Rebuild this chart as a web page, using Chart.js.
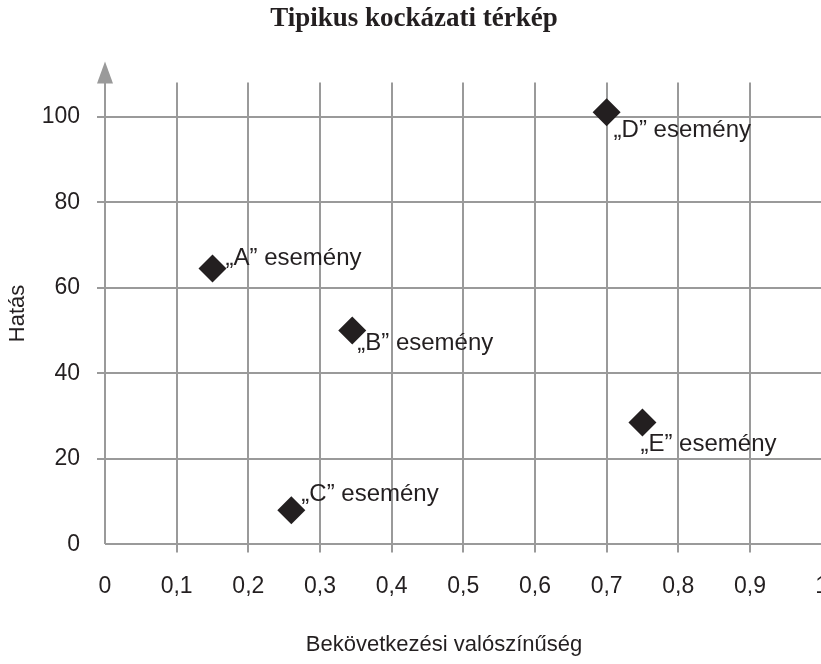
<!DOCTYPE html>
<html>
<head>
<meta charset="utf-8">
<script src="https://cdn.jsdelivr.net/npm/chart.js@4"></script>
<style>
  html, body { margin: 0; padding: 0; background: #fff; }
  #frame { width: 821px; height: 664px; overflow: hidden; }
  #wrap { width: 848px; height: 664px; position: relative; }
</style>
</head>
<body>
<div id="frame"><div id="wrap"><canvas id="chart"></canvas></div></div>
<script>
// data
const eventNames = ['„A” esemény', '„B” esemény', '„C” esemény', '„D” esemény', '„E” esemény'];
const probability = [0.15, 0.345, 0.26, 0.70, 0.75];
const impact = [64.5, 50, 8, 101, 28.5];
const xTickLabels = ['0', '0,1', '0,2', '0,3', '0,4', '0,5', '0,6', '0,7', '0,8', '0,9', '1'];

// label placement next to each marker (px, relative to the point)
const labelOffsets = [[13, -10], [5, 13], [10, -16], [7, 18], [-2, 22]];

const INK = '#231f20';
const GRID = '#9a9a9a';
const SANS = "'Liberation Sans', Arial, sans-serif";

const gridOpts = {
  color: GRID,
  lineWidth: 2,
  tickLength: 8,
  tickColor: (ctx) => (ctx.tick && ctx.tick.value === 0 ? 'rgba(0,0,0,0)' : GRID),
};

// arrow on top of the y axis + event labels + x axis title
const decorations = {
  id: 'decorations',
  afterDatasetsDraw(chart) {
    const { ctx, chartArea, scales } = chart;
    const x0 = scales.x.getPixelForValue(0);
    ctx.save();
    ctx.fillStyle = GRID;
    ctx.beginPath();
    ctx.moveTo(x0, chartArea.top - 21);
    ctx.lineTo(x0 - 8, chartArea.top + 1);
    ctx.lineTo(x0 + 8, chartArea.top + 1);
    ctx.closePath();
    ctx.fill();

    ctx.fillStyle = INK;
    ctx.font = '24px ' + SANS;
    ctx.textBaseline = 'middle';
    ctx.textAlign = 'left';
    eventNames.forEach((name, i) => {
      const px = scales.x.getPixelForValue(probability[i]);
      const py = scales.y.getPixelForValue(impact[i]);
      ctx.fillText(name, px + labelOffsets[i][0], py + labelOffsets[i][1]);
    });

    ctx.font = '22px ' + SANS;
    ctx.textAlign = 'center';
    ctx.fillText('Bekövetkezési valószínűség', 444, chart.height - 19);
    ctx.restore();
  },
};

new Chart(document.getElementById('chart'), {
  type: 'scatter',
  data: {
    datasets: [{
      data: probability.map((p, i) => ({ x: p, y: impact[i] })),
      pointStyle: 'rectRot',
      pointRadius: 14,
      pointHoverRadius: 14,
      backgroundColor: INK,
      borderColor: INK,
      borderWidth: 0,
    }],
  },
  options: {
    responsive: true,
    maintainAspectRatio: false,
    animation: false,
    layout: { padding: { left: 0, right: 20, top: 0, bottom: 44 } },
    plugins: {
      legend: { display: false },
      tooltip: { enabled: false },
      title: {
        display: true,
        text: 'Tipikus kockázati térkép',
        color: INK,
        font: { family: "'Liberation Serif', 'Times New Roman', serif", size: 27, weight: 'bold' },
        padding: { top: 3, bottom: 47 },
      },
    },
    scales: {
      x: {
        type: 'linear',
        min: 0,
        max: 1,
        grid: gridOpts,
        border: { display: false },
        ticks: {
          stepSize: 0.1,
          color: INK,
          padding: 20,
          maxRotation: 0,
          autoSkip: false,
          font: { family: SANS, size: 23 },
          callback: (v, i) => xTickLabels[i],
        },
      },
      y: {
        min: 0,
        max: 108,
        grid: gridOpts,
        border: { display: false },
        afterFit: (scale) => { scale.width = 105; },
        ticks: {
          stepSize: 20,
          includeBounds: false,
          color: INK,
          padding: 17,
          font: { family: SANS, size: 23 },
        },
        title: {
          display: true,
          text: 'Hatás',
          color: INK,
          font: { family: SANS, size: 22 },
          padding: { top: 5, bottom: 0 },
        },
      },
    },
  },
  plugins: [decorations],
});
</script>
</body>
</html>
